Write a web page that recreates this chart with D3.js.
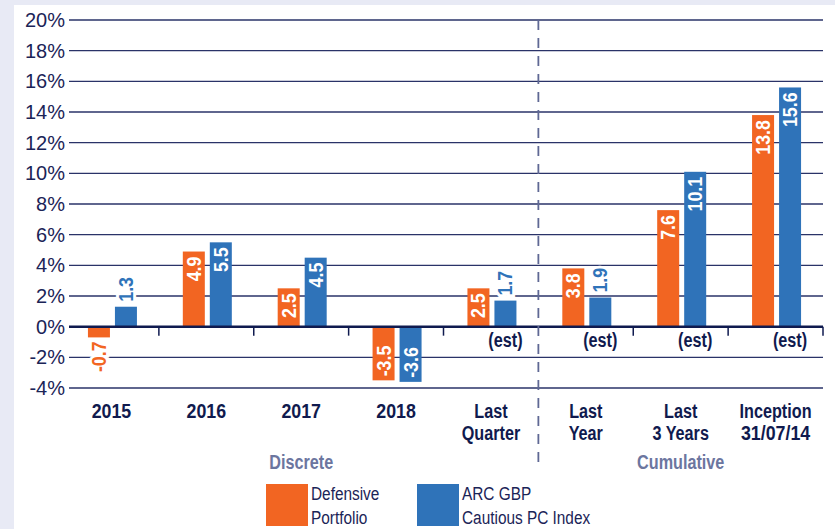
<!DOCTYPE html>
<html>
<head>
<meta charset="utf-8">
<script src="https://cdn.jsdelivr.net/npm/d3@7"></script>
<style>
  html, body { margin: 0; padding: 0; background: #e8eaf5; }
  svg { display: block; }
  text { font-family: "Liberation Sans", Arial, sans-serif; }
</style>
</head>
<body>
<div id="chart"></div>
<script>
// categories (one entry per line of the axis label)
const categories = [
  ["2015"], ["2016"], ["2017"], ["2018"], ["Last", "Quarter"],
  ["Last", "Year"], ["Last", "3 Years"], ["Inception", "31/07/14"]
]
const series = ["Defensive Portfolio", "ARC GBP Cautious PC Index"]
const defensive = [-0.7, 4.9, 2.5, -3.5, 2.5, 3.8, 7.6, 13.8]
const arcIndex = [1.3, 5.5, 4.5, -3.6, 1.7, 1.9, 10.1, 15.6]
const estimated = [false, false, false, false, true, true, true, true]
const yTicks = [-4, -2, 0, 2, 4, 6, 8, 10, 12, 14, 16, 18, 20]
const groups = [{ name: "Discrete", from: 0, to: 5 }, { name: "Cumulative", from: 5, to: 8 }]
const legendLines = [["Defensive", "Portfolio"], ["ARC GBP", "Cautious PC Index"]]

const width = 835, height = 529
const colors = ["#f26522", "#2f73b9"]
const navy = "#1b2457"

// the original uses a condensed face: squeeze words more than numbers
const squeezeFor = s => /^[\d.\/\-]+$/.test(s) ? 0.89 : 0.81
const narrowAt = (px, py, s, rot) =>
  `translate(${px},${py})${rot ? " rotate(" + rot + ")" : ""} scale(${squeezeFor(s)},1)`

const svg = d3.select("#chart").append("svg")
  .attr("width", width)
  .attr("height", height)

svg.append("rect")
  .attr("x", 14).attr("y", 5)
  .attr("width", width - 14).attr("height", height - 5)
  .attr("fill", "#fff")

const keys = categories.map((c, i) => i)
const x = d3.scaleBand().domain(keys).range([64, 823])
const x1 = d3.scaleBand().domain([0, 1]).range([0, 49]).paddingInner(0.185)
const y = d3.scaleLinear().domain([-4, 20]).range([388, 20])
const pairOffset = (x.bandwidth() - 49) / 2 + 1

// gridlines + y labels
const grid = svg.append("g")
grid.selectAll("line").data(yTicks.filter(d => d !== 0)).enter()
  .append("line")
  .attr("x1", 69).attr("x2", 823)
  .attr("y1", d => y(d)).attr("y2", d => y(d))
  .attr("stroke", "#2a3368")
  .attr("stroke-width", 1.3)

const yAxis = svg.append("g")
  .attr("transform", "translate(66,0)")
  .call(d3.axisLeft(y).tickValues(yTicks).tickSize(0).tickPadding(1).tickFormat(d => d + "%"))
yAxis.select(".domain").remove()
yAxis.selectAll("text")
  .attr("font-size", 20)
  .attr("fill", navy)
  .style("font-family", "'Liberation Sans', Arial, sans-serif")

// bars
const data = keys.map(i => ({ i, values: [defensive[i], arcIndex[i]] }))
const barGroups = svg.append("g").selectAll("g").data(data).enter()
  .append("g")
  .attr("transform", d => `translate(${x(d.i) + pairOffset},0)`)

barGroups.selectAll("rect").data(d => d.values.map((v, s) => ({ v, s }))).enter()
  .append("rect")
  .attr("x", d => x1(d.s))
  .attr("width", x1.bandwidth())
  .attr("y", d => y(Math.max(0, d.v)))
  .attr("height", d => Math.abs(y(d.v) - y(0)))
  .attr("fill", d => colors[d.s])

// value labels, rotated
barGroups.each(function (g) {
  const sel = d3.select(this)
  g.values.forEach((v, s) => {
    const label = v.toFixed(1)
    const cx = x1(s) + x1.bandwidth() / 2 + 7
    const end = y(v)
    const barLen = Math.abs(end - y(0))
    const t = sel.append("text")
      .attr("font-size", 20)
      .attr("font-weight", "bold")
      .text(label)
    const len = t.node().getComputedTextLength() * squeezeFor(label)
    const inside = barLen >= len + 8
    let pos, anchor
    if (v >= 0) {
      pos = inside ? end + 5 : end - 5
      anchor = inside ? "end" : "start"
    } else {
      pos = inside ? end - 4 : end + 4
      anchor = inside ? "start" : "end"
    }
    t.attr("transform", narrowAt(cx, pos, label, -90))
      .attr("text-anchor", anchor)
      .attr("fill", inside ? "#fff" : colors[s])
    if (!inside) {
      t.attr("stroke", "#fff").attr("stroke-width", 6).attr("paint-order", "stroke")
    }
  })
})

// zero line and ticks
svg.append("line")
  .attr("x1", 69).attr("x2", 823)
  .attr("y1", y(0)).attr("y2", y(0))
  .attr("stroke", "#0f1a4f").attr("stroke-width", 2.5)

svg.append("g").selectAll("line")
  .data(keys.slice(1).filter(i => i !== 5).map(i => x(i)).concat([823]))
  .enter().append("line")
  .attr("x1", d => d).attr("x2", d => d)
  .attr("y1", y(0)).attr("y2", y(0) + 9)
  .attr("stroke", "#0f1a4f").attr("stroke-width", 1.5)

// (est) labels
svg.append("g").selectAll("text").data(keys.filter(i => estimated[i])).enter()
  .append("text")
  .attr("transform", i => narrowAt(x(i) + pairOffset + x1(1) + x1.bandwidth() / 2, 347, "(est)"))
  .attr("text-anchor", "middle")
  .attr("font-size", 20)
  .attr("font-weight", "bold")
  .attr("fill", "#101a4e")
  .text("(est)")

// category labels
const catLines = keys.flatMap(i => categories[i].map((line, j) => ({ i, j, line })))
svg.append("g").selectAll("text").data(catLines).enter()
  .append("text")
  .attr("transform", d => narrowAt(x(d.i) + x.bandwidth() / 2, 418 + d.j * 22, d.line))
  .attr("text-anchor", "middle")
  .attr("font-size", 20)
  .attr("font-weight", "bold")
  .attr("fill", "#101a4e")
  .text(d => d.line)

// separator
svg.append("line")
  .attr("x1", x(5)).attr("x2", x(5))
  .attr("y1", 20).attr("y2", 470)
  .attr("stroke", "#5f6894").attr("stroke-width", 1.8)
  .attr("stroke-dasharray", "10,8")

// group titles
svg.append("g").selectAll("text").data(groups).enter()
  .append("text")
  .attr("transform", d => narrowAt((x(d.from) + (d.to === keys.length ? 823 : x(d.to))) / 2, 469, d.name))
  .attr("text-anchor", "middle")
  .attr("font-size", 20)
  .attr("font-weight", "bold")
  .attr("fill", "#6c769f")
  .text(d => d.name)

// legend
const legend = svg.append("g").selectAll("g").data(series).enter()
  .append("g")
  .attr("transform", (d, i) => `translate(${266 + i * 151},484)`)
legend.append("rect")
  .attr("width", 42).attr("height", 42)
  .attr("fill", (d, i) => colors[i])
legend.each(function (d, i) {
  d3.select(this).selectAll("text").data(legendLines[i]).enter()
    .append("text")
    .attr("transform", (t, j) => narrowAt(45, 16 + j * 24, t))
    .attr("font-size", 19)
    .attr("fill", navy)
    .text(t => t)
})
</script>
</body>
</html>
